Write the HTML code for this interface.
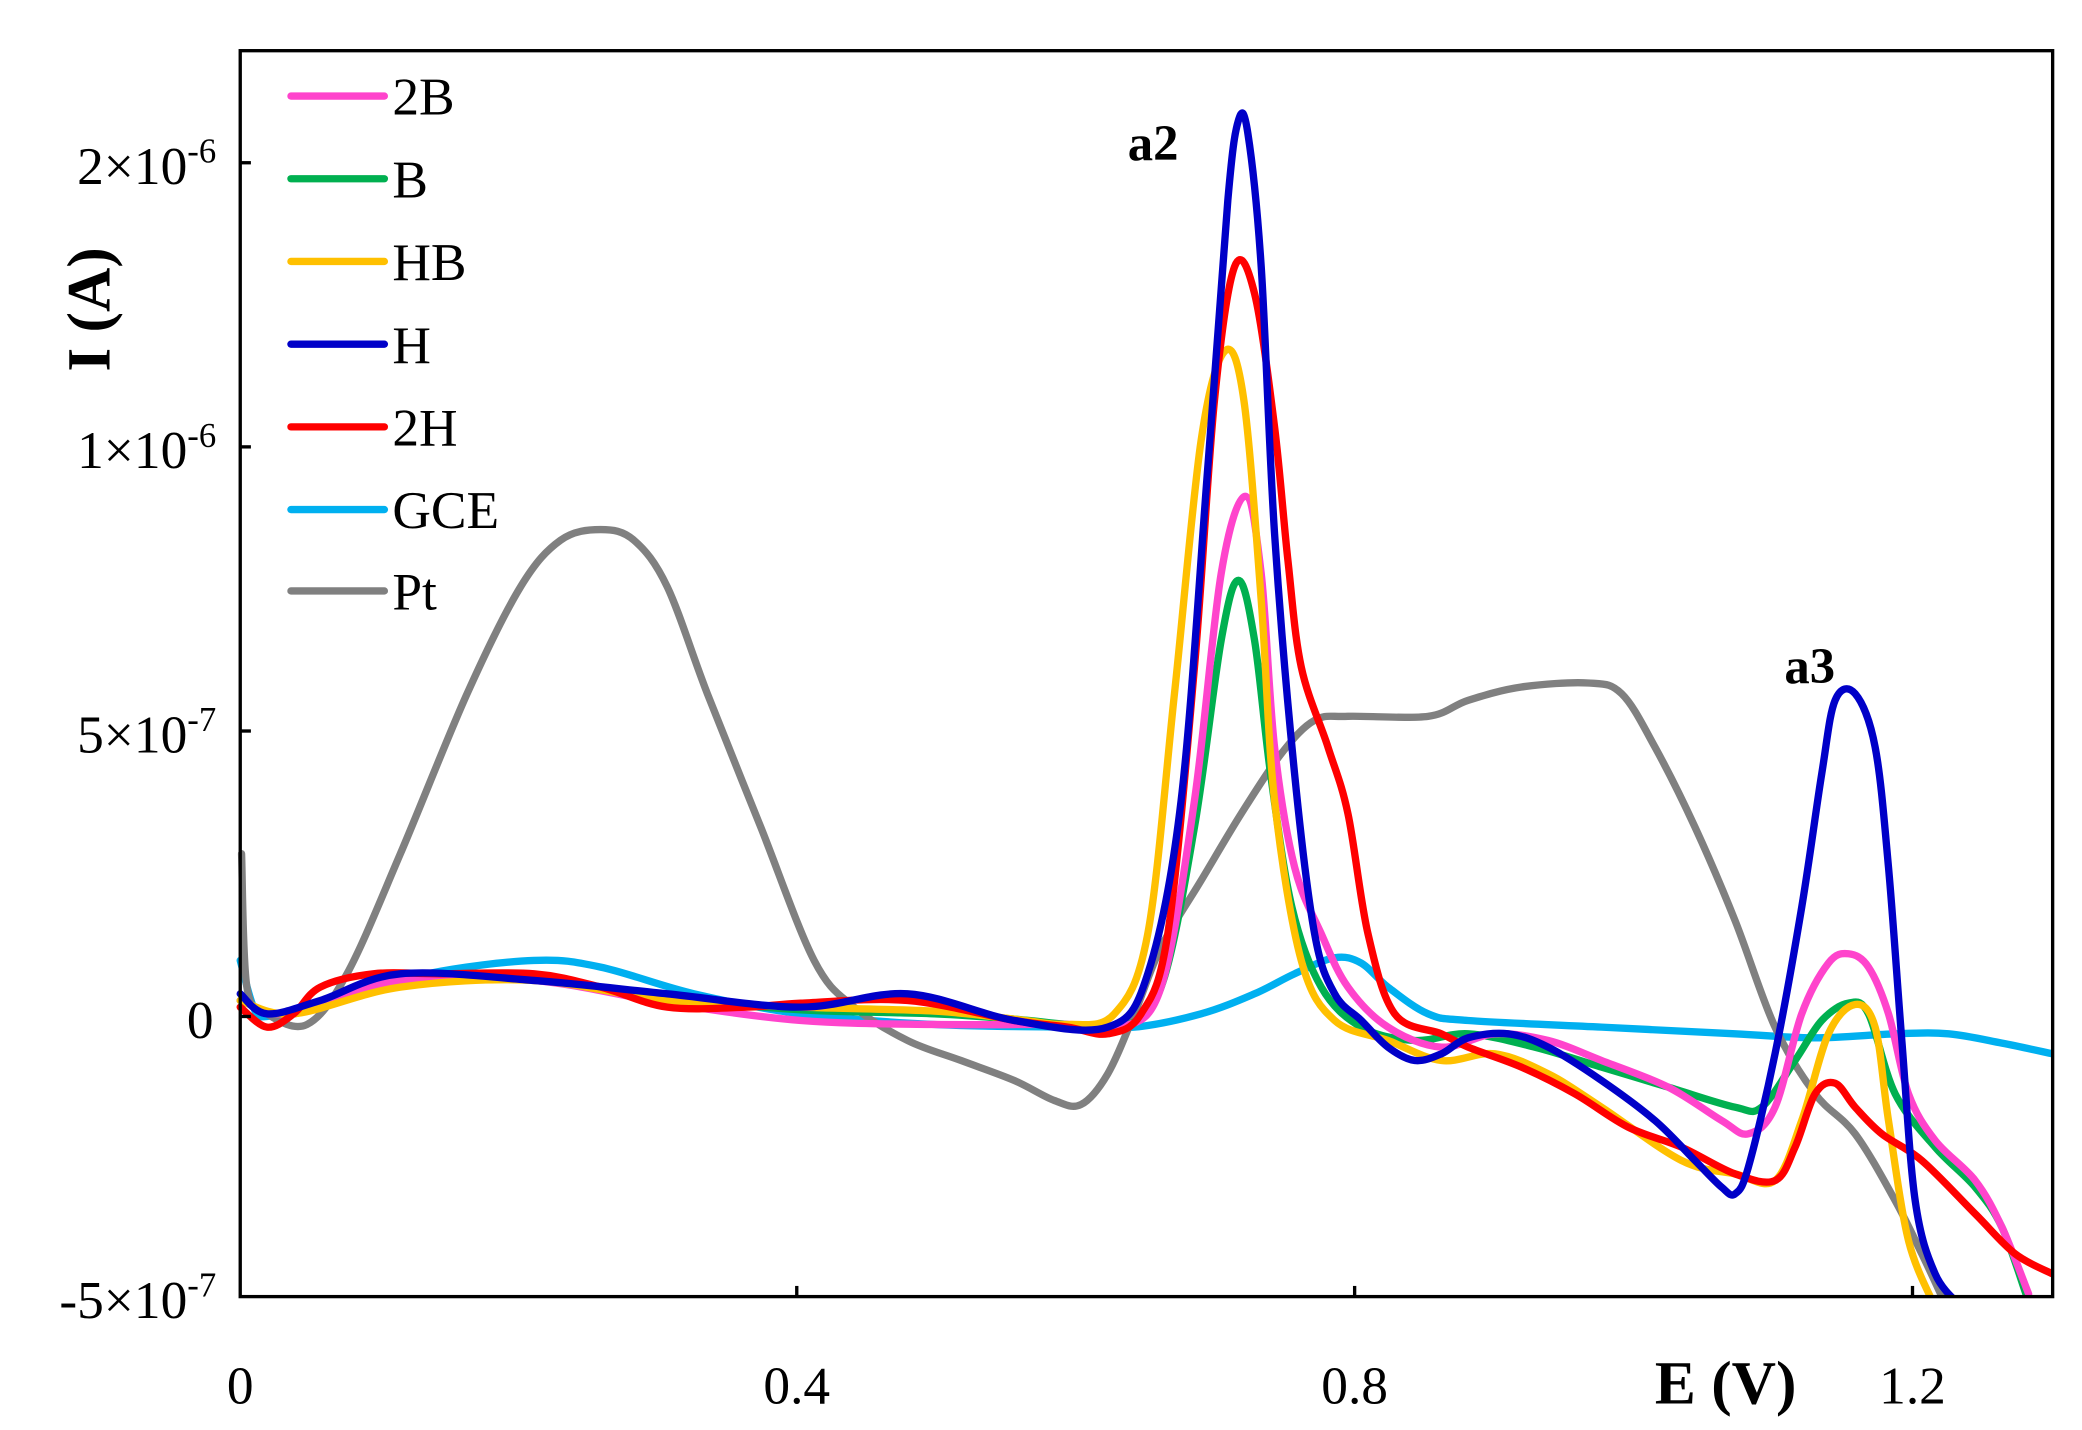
<!DOCTYPE html>
<html><head><meta charset="utf-8"><style>html,body{margin:0;padding:0;background:#fff}svg{display:block}</style></head>
<body>
<svg id="s" width="2082" height="1430" viewBox="0 0 1560 1072" preserveAspectRatio="none" xmlns="http://www.w3.org/2000/svg" font-family="Liberation Serif, serif">
<rect width="1560" height="1072" fill="#fff"/>
<g id="curves" fill="none" stroke-width="5.5" stroke-linejoin="round" stroke-linecap="round">
<polyline stroke="#00b0f0" points="180,720 190,755 200,762 250,750 320,730 400,720 450,725 520,745 600,760 700,768 800,770 850,770 900,760 940,745 970,730 1000,718 1020,722 1040,740 1070,760 1100,765 1200,770 1300,775 1360,778 1420,775 1460,775 1500,782 1538,790"/>
<polyline stroke="#808080" points="181,640 185,740 200,760 230,768 260,730 300,640 350,520 390,440 420,405 450,397 475,405 500,440 530,520 570,620 610,720 640,755 680,780 720,795 760,810 790,825 810,828 830,805 850,760 870,710 900,660 930,610 960,565 985,540 1010,537 1070,537 1100,525 1140,515 1190,512 1215,520 1240,560 1270,620 1300,690 1330,770 1360,820 1390,850 1420,900 1440,940 1455,972"/>
<polyline stroke="#00b050" points="180,750 220,760 300,735 400,735 500,748 600,757 700,760 760,764 800,768 840,770 870,740 895,620 915,480 928,435 940,480 952,580 968,680 990,740 1020,770 1060,780 1100,775 1150,785 1200,800 1250,815 1300,830 1320,830 1345,795 1365,765 1385,752 1400,760 1420,820 1450,860 1480,890 1500,920 1518,970"/>
<polyline stroke="#ff44cc" points="180,750 220,760 300,735 400,735 500,752 600,765 700,768 800,768 840,770 870,740 895,600 915,430 933,372 945,430 955,560 970,650 990,700 1010,740 1040,770 1080,785 1120,775 1160,780 1200,795 1250,815 1290,840 1310,850 1330,830 1350,760 1370,722 1385,715 1400,725 1415,760 1430,820 1450,855 1480,885 1500,920 1520,970"/>
<polyline stroke="#ffc000" points="180,750 220,760 300,740 400,735 500,750 600,755 700,758 760,764 800,768 835,760 860,700 880,520 900,330 918,263 932,300 945,450 955,600 975,720 1000,765 1040,780 1080,795 1120,790 1160,805 1200,830 1260,870 1300,880 1330,885 1350,840 1370,775 1390,753 1405,770 1415,840 1430,930 1450,980"/>
<polyline stroke="#ff0000" points="180,755 200,770 220,760 240,740 280,730 330,730 400,730 450,740 500,755 560,755 600,752 680,750 760,765 800,770 830,775 855,760 875,700 895,500 910,300 925,200 940,220 955,320 965,420 975,500 995,560 1010,610 1025,700 1045,760 1080,775 1100,785 1140,800 1180,820 1220,845 1260,860 1300,880 1330,885 1345,860 1360,820 1375,812 1390,830 1410,850 1440,870 1480,910 1510,940 1538,955"/>
<polyline stroke="#0000c8" points="180,745 200,760 240,750 300,730 400,735 500,745 600,755 680,745 760,765 830,770 860,730 885,600 905,350 920,150 928,90 935,100 945,200 955,400 970,580 985,700 1000,745 1020,765 1040,785 1060,795 1080,790 1100,778 1130,775 1160,785 1200,810 1240,840 1270,870 1290,890 1300,895 1310,875 1330,790 1350,680 1365,580 1375,525 1390,520 1405,560 1415,650 1425,780 1435,900 1450,955 1470,980"/>
</g>
<rect x="1539" y="0" width="21" height="1072" fill="#fff"/>
<rect x="180" y="973" width="1380" height="99" fill="#fff"/>
<rect x="180" y="38" width="1358" height="934" fill="none" stroke="#000" stroke-width="2.5"/>
<g stroke="#000" stroke-width="2.5">
<line x1="180" y1="122" x2="188" y2="122"/><line x1="180" y1="335" x2="188" y2="335"/><line x1="180" y1="548" x2="188" y2="548"/><line x1="180" y1="762" x2="188" y2="762"/>
<line x1="597" y1="972" x2="597" y2="964"/><line x1="1015" y1="972" x2="1015" y2="964"/><line x1="1433" y1="972" x2="1433" y2="964"/>
</g>
<g font-size="40" fill="#000" text-anchor="end">
<text x="162" y="138">2×10<tspan font-size="26" dy="-16">-6</tspan></text>
<text x="162" y="351">1×10<tspan font-size="26" dy="-16">-6</tspan></text>
<text x="162" y="564">5×10<tspan font-size="26" dy="-16">-7</tspan></text>
<text x="160" y="778">0</text>
<text x="162" y="988">-5×10<tspan font-size="26" dy="-16">-7</tspan></text>
</g>
<g font-size="40" fill="#000" text-anchor="middle">
<text x="180" y="1052">0</text><text x="597" y="1052">0.4</text><text x="1015" y="1052">0.8</text><text x="1433" y="1052">1.2</text>
</g>
<text x="1293" y="1052" font-size="46" font-weight="bold" text-anchor="middle">E (V)</text>
<text transform="translate(82,232) rotate(-90)" font-size="46" font-weight="bold" text-anchor="middle">I (A)</text>
<text x="845" y="120" font-size="38" font-weight="bold">a2</text>
<text x="1337" y="512" font-size="38" font-weight="bold">a3</text>
<g stroke-width="5.5" stroke-linecap="round">
<line x1="218" y1="72" x2="288" y2="72" stroke="#ff44cc"/>
<line x1="218" y1="134" x2="288" y2="134" stroke="#00b050"/>
<line x1="218" y1="196" x2="288" y2="196" stroke="#ffc000"/>
<line x1="218" y1="258" x2="288" y2="258" stroke="#0000c8"/>
<line x1="218" y1="320" x2="288" y2="320" stroke="#ff0000"/>
<line x1="218" y1="382" x2="288" y2="382" stroke="#00b0f0"/>
<line x1="218" y1="443" x2="288" y2="443" stroke="#808080"/>
</g>
<g font-size="40" fill="#000">
<text x="294" y="86">2B</text><text x="294" y="148">B</text><text x="294" y="210">HB</text><text x="294" y="272">H</text><text x="294" y="334">2H</text><text x="294" y="396">GCE</text><text x="294" y="457">Pt</text>
</g>
</svg>
<script>
(function(){
var ns="http://www.w3.org/2000/svg";
var pls=document.querySelectorAll("#curves polyline");
for(var i=0;i<pls.length;i++){
var pl=pls[i];var a=pl.getAttribute("points").trim().split(/\s+/).map(function(s){var q=s.split(",");return[+q[0],+q[1]];});
var d="M"+a[0][0]+","+a[0][1];
for(var k=0;k<a.length-1;k++){
var p0=a[k>0?k-1:0],p1=a[k],p2=a[k+1],p3=a[k+2<a.length?k+2:k+1];
var c1x=p1[0]+(p2[0]-p0[0])/6,c1y=p1[1]+(p2[1]-p0[1])/6,c2x=p2[0]-(p3[0]-p1[0])/6,c2y=p2[1]-(p3[1]-p1[1])/6;
d+=" C"+c1x+","+c1y+" "+c2x+","+c2y+" "+p2[0]+","+p2[1];}
var p=document.createElementNS(ns,"path");p.setAttribute("d",d);p.setAttribute("stroke",pl.getAttribute("stroke"));
pl.parentNode.replaceChild(p,pl);}
})();
</script>
</body></html>
